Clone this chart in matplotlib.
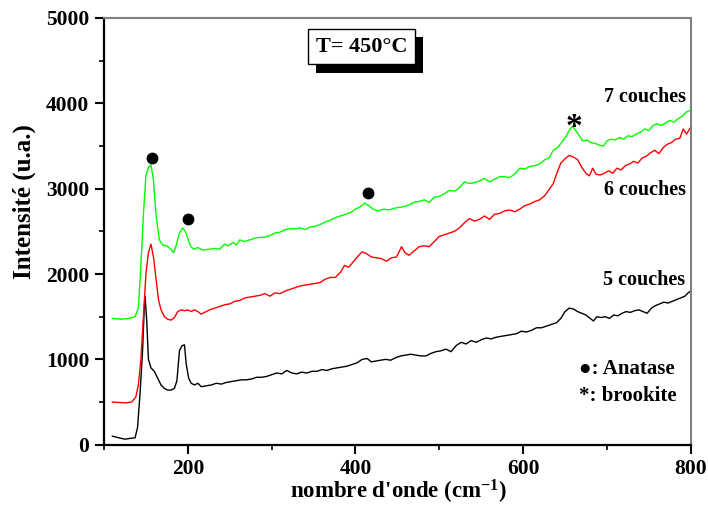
import matplotlib
matplotlib.use("Agg")
import matplotlib.pyplot as plt
from matplotlib.ticker import MultipleLocator
import matplotlib.patheffects as pe

plt.rcParams['font.family'] = ['Liberation Serif', 'DejaVu Serif']
plt.rcParams['font.weight'] = 'bold'
plt.rcParams['mathtext.fontset'] = 'custom'
plt.rcParams['mathtext.rm'] = 'Liberation Serif:bold'
plt.rcParams['mathtext.bf'] = 'Liberation Serif:bold'
plt.rcParams['mathtext.default'] = 'bf'

# 7 couches (green)
x7 = [110,120,130,137,141,144,147,150,153,156,159,162,166,170,175,180,183,186,190,194,197,200,203,207,212,218,225,232,238,244,248,254,258,262,268,274,280,286,292,298,304,310,316,322,328,334,340,346,352,358,364,370,376,382,388,394,400,406,411,416,421,427,434,440,446,452,458,464,470,476,482,488,494,500,506,512,518,524,530,536,542,548,554,560,566,572,578,584,590,596,602,608,614,620,626,631,636,641,646,651,656,659,663,667,671,676,681,686,691,696,700,705,710,715,720,725,730,735,740,745,750,755,760,765,770,775,780,785,790,795,800]
y7 = [1480,1470,1480,1500,1600,2100,2700,3150,3250,3280,3100,2700,2400,2340,2330,2290,2250,2330,2480,2540,2500,2420,2330,2290,2310,2280,2290,2300,2290,2350,2330,2370,2340,2400,2380,2400,2420,2430,2430,2450,2480,2490,2520,2530,2530,2540,2520,2550,2560,2580,2610,2630,2660,2680,2700,2720,2760,2790,2830,2800,2760,2740,2760,2750,2770,2780,2790,2810,2840,2850,2870,2840,2900,2910,2940,2980,2970,3010,3080,3060,3070,3090,3120,3080,3110,3140,3140,3130,3170,3240,3230,3260,3270,3290,3340,3360,3450,3480,3540,3610,3700,3730,3680,3620,3560,3570,3540,3530,3510,3500,3560,3580,3570,3600,3580,3620,3610,3640,3660,3700,3680,3740,3760,3740,3770,3800,3780,3820,3850,3900,3920]

# 6 couches (red)
x6 = [110,118,126,133,138,141,144,147,150,153,156,159,162,165,168,172,176,180,184,188,192,196,200,204,208,212,216,220,226,232,238,244,250,256,262,268,274,280,286,292,298,304,310,316,322,328,334,340,346,352,358,364,370,376,382,387,392,398,404,408,413,419,425,431,437,443,449,455,459,464,470,476,482,488,494,500,506,512,518,524,530,536,542,548,554,560,566,572,578,584,590,596,602,608,614,620,626,631,636,641,645,650,655,660,665,670,675,679,683,687,692,697,702,707,712,717,722,727,732,737,742,747,752,757,762,767,772,777,782,787,791,795,800]
y6 = [500,495,490,500,560,700,1000,1500,2000,2250,2350,2200,1950,1700,1580,1500,1470,1460,1490,1560,1580,1570,1580,1560,1580,1560,1530,1550,1580,1600,1620,1640,1650,1680,1690,1720,1730,1740,1750,1770,1740,1780,1770,1800,1820,1840,1860,1870,1880,1890,1900,1940,1960,1960,2020,2100,2080,2150,2220,2260,2240,2200,2190,2180,2150,2190,2200,2320,2250,2220,2270,2320,2330,2320,2380,2440,2460,2480,2500,2540,2600,2650,2620,2640,2680,2640,2700,2710,2740,2750,2730,2760,2800,2820,2850,2870,2920,2990,3060,3200,3300,3350,3390,3370,3340,3250,3180,3150,3240,3170,3160,3180,3210,3180,3240,3220,3270,3290,3320,3300,3360,3380,3420,3450,3410,3480,3520,3540,3580,3590,3700,3640,3720]

# 5 couches (black)
x5 = [110,118,125,132,137,140,143,146,148,149,151,153,156,160,164,168,172,176,180,184,187,190,193,196,198,201,204,208,212,216,222,228,234,240,246,252,258,264,270,276,282,288,294,300,306,312,318,324,330,336,342,348,354,360,366,372,378,384,390,396,402,408,414,419,424,430,436,442,448,454,460,466,472,478,484,490,496,502,508,514,520,526,532,538,544,550,556,562,568,574,580,586,592,598,604,610,616,622,628,634,640,645,650,655,660,665,670,675,680,684,688,693,698,703,708,713,718,723,728,733,738,743,748,753,758,763,768,773,778,783,788,793,797,800]
y5 = [100,80,65,75,80,200,600,1100,1600,1740,1450,1000,900,860,780,700,660,640,640,660,750,1100,1160,1170,950,780,720,700,720,680,690,700,720,710,730,740,750,760,760,770,790,790,800,820,840,830,870,840,830,850,840,860,860,880,870,890,900,910,920,940,960,1000,1010,970,980,990,1000,990,1020,1040,1050,1060,1050,1040,1040,1070,1090,1100,1120,1090,1160,1200,1180,1220,1200,1230,1250,1240,1260,1270,1280,1290,1300,1330,1320,1340,1370,1370,1390,1410,1430,1480,1560,1600,1590,1560,1540,1520,1480,1450,1500,1490,1500,1480,1520,1510,1540,1560,1550,1570,1580,1560,1540,1600,1630,1650,1670,1660,1680,1700,1720,1740,1780,1800]

series_labels = ["7 couches", "6 couches", "5 couches"]
label_pos_x = [745, 746, 744]
label_pos_y = [4074, 2980, 1932]

anatase_x = [157.6, 199.8, 414.5]
anatase_y = [3356, 2645, 2950]
brookite_x = [660.6]
brookite_y = [3835]

fig = plt.figure(figsize=(7.08, 5.08), dpi=100)
ax = fig.add_axes([0.1469, 0.1246, 0.8287, 0.8400])

ax.plot(x5, y5, color='black', lw=1.0)
ax.plot(x6, y6, color='#ff0000', lw=1.0)
ax.plot(x7, y7, color='#00ff00', lw=1.0)

ax.plot(anatase_x, anatase_y, 'o', color='black', ms=7.5)
for bx, by in zip(brookite_x, brookite_y):
    ax.text(bx, by - 120, '*', fontsize=24, ha='center', va='center', fontweight='bold')

for lab, lx, ly in zip(series_labels, label_pos_x, label_pos_y):
    ax.text(lx, ly, lab, fontsize=14.5, ha='center', va='center', fontweight='bold')

ax.text(0.891, 0.177, '\u25cf: Anatase', transform=ax.transAxes, fontsize=15,
        ha='center', va='center', fontweight='bold')
ax.text(0.893, 0.114, '*: brookite', transform=ax.transAxes, fontsize=15,
        ha='center', va='center', fontweight='bold')

ax.text(0.439, 0.933, 'T= 450\u00b0C', transform=ax.transAxes, fontsize=16,
        ha='center', va='center', fontweight='bold',
        bbox=dict(boxstyle='square,pad=0.35', fc='white', ec='black', lw=1.0,
                  path_effects=[pe.withSimplePatchShadow(offset=(6, -6), shadow_rgbFace='black', alpha=1.0)]))

ax.set_xlim(100, 800)
ax.set_ylim(0, 5000)
ax.xaxis.set_major_locator(MultipleLocator(200))
ax.xaxis.set_minor_locator(MultipleLocator(100))
ax.yaxis.set_major_locator(MultipleLocator(1000))
ax.yaxis.set_minor_locator(MultipleLocator(500))
ax.tick_params(which='major', direction='out', length=6.5, width=1.5, labelsize=15.5, pad=4, top=False, right=False)
ax.tick_params(which='minor', direction='out', length=3.5, width=1.2, top=False, right=False)
for lab in ax.get_xticklabels() + ax.get_yticklabels():
    lab.set_fontweight('bold')

for s in ['left', 'bottom']:
    ax.spines[s].set_linewidth(1.6)
    ax.spines[s].set_color('black')
for s in ['top', 'right']:
    ax.spines[s].set_linewidth(1.5)
    ax.spines[s].set_color('#808080')

ax.set_xlabel("nombre d'onde (cm$^{-1}$)", fontsize=16.5, fontweight='bold')
ax.set_ylabel('Intensit\u00e9 (u.a.)', fontsize=18, fontweight='bold')
ax.xaxis.label.set_va('center')
ax.yaxis.label.set_va('center')
ax.xaxis.set_label_coords(0.502, -0.111)
ax.yaxis.set_label_coords(-0.136, 0.569)

fig.savefig('out.png', dpi=100)
